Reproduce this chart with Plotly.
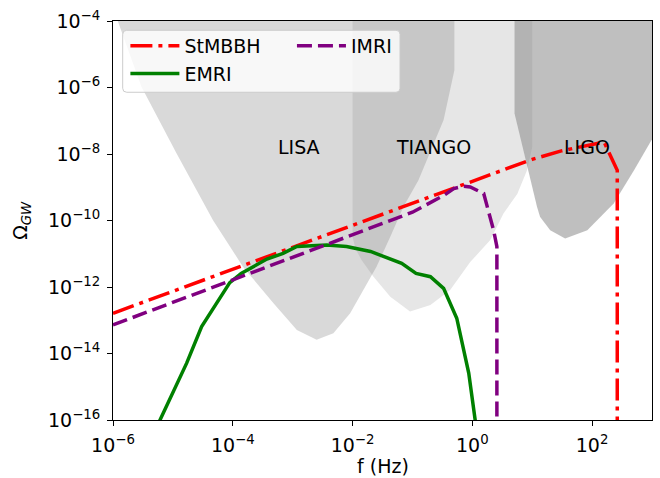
import numpy as np
import plotly.graph_objects as go

# ---------------- data (log10 values) ----------------
# detector sensitivity curves (log10 f [Hz], log10 Omega)
lisa_logf = [-5.95, -5.525, -4.94, -4.33, -3.83, -3.32, -2.93, -2.60, -2.32, -2.04,
             -1.82, -1.60, -1.37, -1.15, -0.90, -0.70, -0.48, -0.30]
lisa_logo = [-3.85, -5.98, -7.98, -9.99, -11.39, -12.49, -13.29, -13.59, -13.39, -12.79,
             -12.09, -11.39, -10.49, -9.59, -8.79, -7.95, -6.98, -5.48]

tiango_logf = [-2.0, -1.95, -1.85, -1.65, -1.37, -1.04, -0.70, -0.37, -0.035, 0.30,
               0.52, 0.75, 0.91, 1.0]
tiango_logo = [-10.49, -10.85, -11.19, -11.69, -12.29, -12.74, -12.54, -12.09, -11.25, -10.59,
               -9.79, -9.2, -8.5, -7.8]

ligo_logf = [0.705, 0.76, 0.86, 0.97, 1.08, 1.13, 1.30, 1.55, 1.92, 2.36, 2.70, 3.05]
ligo_logo = [-6.78, -7.2, -7.98, -8.8, -9.59, -9.89, -10.29, -10.54, -10.29, -9.49, -8.49, -7.4]

# source spectra
stmbbh_logf = [-6.0, -4.0, -2.0, 0.0, 1.0, 1.5, 2.0, 2.2, 2.42, 2.42]
stmbbh_logo = [-12.79, -11.46, -10.13, -8.80, -8.16, -7.90, -7.70, -7.64, -8.49, -17.0]

imri_logf = [-6.0, -4.0, -2.0, -1.0, -0.48, -0.31, -0.15, -0.035, 0.19, 0.355, 0.41, 0.41]
imri_logo = [-13.14, -11.78, -10.43, -9.75, -9.25, -9.04, -8.97, -8.99, -9.19, -10.29, -10.79, -17.0]

emri_logf = [-5.28, -4.77, -4.52, -4.30, -4.05, -3.86, -3.43, -3.16, -2.93, -2.43, -2.10,
             -1.70, -1.18, -0.94, -0.70, -0.48, -0.26, -0.06, 0.05, 0.07]
emri_logo = [-16.25, -14.29, -13.19, -12.56, -11.87, -11.59, -11.16, -10.99, -10.78, -10.74, -10.78,
             -10.93, -11.29, -11.59, -11.69, -12.04, -12.94, -14.59, -16.0, -16.3]

detector_labels = ["LISA", "TIANGO", "LIGO"]
label_logf = [-3.28, -1.30, 1.49]
label_logo = [-7.8, -7.8, -7.8]

x_tickvals_log = [-6, -4, -2, 0, 2]
x_ticktext = ["10<sup>−6</sup>", "10<sup>−4</sup>", "10<sup>−2</sup>", "10<sup>0</sup>", "10<sup>2</sup>"]
y_tickvals_log = [-16, -14, -12, -10, -8, -6, -4]
y_ticktext = ["10<sup>−16</sup>", "10<sup>−14</sup>", "10<sup>−12</sup>", "10<sup>−10</sup>",
              "10<sup>−8</sup>", "10<sup>−6</sup>", "10<sup>−4</sup>"]

x_title = "f (Hz)"
y_title = "Ω<sub><i>GW</i></sub>"

TOP_LOG = -3.8  # fill regions up beyond the top of the axes

FONT = "DejaVu Sans"
FS = 19


def p(v):
    return list(10.0 ** np.asarray(v, dtype=float))


def region(logf, logo):
    xs = list(logf) + [logf[-1], logf[0], logf[0]]
    ys = list(logo) + [TOP_LOG, TOP_LOG, logo[0]]
    return p(xs), p(ys)


fig = go.Figure()

for (lf, lo, alpha) in [(lisa_logf, lisa_logo, 0.3),
                        (tiango_logf, tiango_logo, 0.2),
                        (ligo_logf, ligo_logo, 0.5)]:
    xs, ys = region(lf, lo)
    fig.add_trace(go.Scatter(x=xs, y=ys, mode="lines", fill="toself",
                             fillcolor=f"rgba(128,128,128,{alpha})",
                             line=dict(width=0), hoverinfo="skip", showlegend=False))

fig.add_trace(go.Scatter(x=p(stmbbh_logf), y=p(stmbbh_logo), mode="lines", name="StMBBH",
                         line=dict(color="red", width=3.5, dash="22px,6px,4px,6px"),
                         legend="legend"))
fig.add_trace(go.Scatter(x=p(emri_logf), y=p(emri_logo), mode="lines", name="EMRI",
                         line=dict(color="green", width=3.5), legend="legend"))
fig.add_trace(go.Scatter(x=p(imri_logf), y=p(imri_logo), mode="lines", name="IMRI",
                         line=dict(color="purple", width=3.5, dash="15px,6px"),
                         legend="legend2"))

for t, lf, lo in zip(detector_labels, label_logf, label_logo):
    fig.add_annotation(x=lf, y=lo, xref="x", yref="y", text=t, showarrow=False,
                       xanchor="left", yanchor="middle", font=dict(family=FONT, size=FS, color="black"))

# axis titles
fig.add_annotation(x=0.5, y=-0.115, xref="paper", yref="paper", text=x_title, showarrow=False,
                   xanchor="center", yanchor="middle", font=dict(family=FONT, size=FS, color="black"))
fig.add_annotation(x=-0.17, y=0.5, xref="paper", yref="paper", text=y_title, showarrow=False,
                   textangle=-90, xanchor="center", yanchor="middle",
                   font=dict(family=FONT, size=FS, color="black"))

# legend frame (rounded box behind both legend columns)
x0, x1, y0, y1 = 0.018, 0.5325, 0.8214, 0.9767
rx, ry = 0.0074, 0.010
path = (f"M{x0+rx},{y0} L{x1-rx},{y0} Q{x1},{y0} {x1},{y0+ry} L{x1},{y1-ry} Q{x1},{y1} {x1-rx},{y1} "
        f"L{x0+rx},{y1} Q{x0},{y1} {x0},{y1-ry} L{x0},{y0+ry} Q{x0},{y0} {x0+rx},{y0} Z")
fig.add_shape(type="path", path=path, xref="paper", yref="paper",
              fillcolor="rgba(255,255,255,0.8)", line=dict(color="rgb(204,204,204)", width=1),
              layer="above")

axis_common = dict(type="log", showgrid=False, zeroline=False, showline=True, mirror=True,
                   linecolor="black", linewidth=1, ticks="outside", ticklen=5, tickwidth=1,
                   tickcolor="black", tickfont=dict(family=FONT, size=FS, color="black"),
                   automargin=False, ticklabelstandoff=3)

fig.update_layout(
    width=660, height=478,
    margin=dict(l=113, r=8, t=21, b=58, autoexpand=False),
    paper_bgcolor="white", plot_bgcolor="white",
    font=dict(family=FONT, size=FS, color="black"),
    xaxis=dict(range=[-6, 3], tickvals=p(x_tickvals_log), ticktext=x_ticktext, **axis_common),
    yaxis=dict(range=[-16, -4], tickvals=p(y_tickvals_log), ticktext=y_ticktext, **axis_common),
    legend=dict(x=0.023, y=0.985, xanchor="left", yanchor="top", bgcolor="rgba(0,0,0,0)",
                borderwidth=0, font=dict(family=FONT, size=FS), tracegroupgap=0, itemwidth=49),
    legend2=dict(x=0.332, y=0.985, xanchor="left", yanchor="top", bgcolor="rgba(0,0,0,0)",
                 borderwidth=0, font=dict(family=FONT, size=FS), itemwidth=49),
    showlegend=True,
)

fig.write_html("out.html", config={"displayModeBar": False},
               post_script="document.body.style.margin='0';document.body.style.overflow='hidden';")
